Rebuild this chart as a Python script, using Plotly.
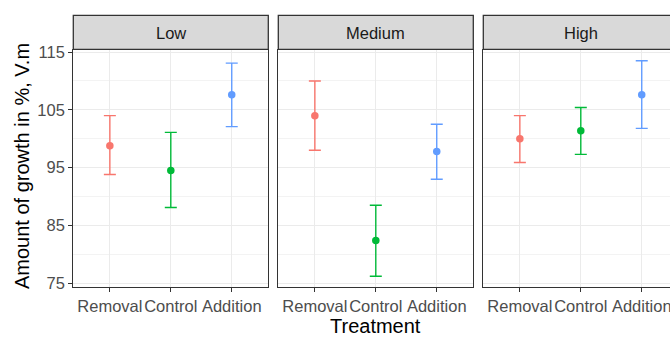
import plotly.graph_objects as go

# Treatment levels (x categories) and facet panels
treatments = ["Removal", "Control", "Addition"]
levels = ["Low", "Medium", "High"]

# Mean growth (%) and the lower / upper ends of the error bars for each panel
mean_low = [98.8, 94.5, 107.6]
lower_low = [93.8, 88.1, 102.1]
upper_low = [104.0, 101.1, 113.1]

mean_medium = [104.0, 82.4, 97.8]
lower_medium = [98.0, 76.2, 93.0]
upper_medium = [110.0, 88.5, 102.5]

mean_high = [100.0, 101.4, 107.6]
lower_high = [95.9, 97.3, 101.8]
upper_high = [104.0, 105.4, 113.5]

y_ticks = [75, 85, 95, 105, 115]

colors = ["#F8766D", "#00BA38", "#619CFF"]

W, H = 670, 337
FONT = "Liberation Sans, Arial, sans-serif"
BORDER = "#333333"
GRID = "#EBEBEB"
TICK_SIZE = 16.5

panels = [
    (mean_low, lower_low, upper_low),
    (mean_medium, lower_medium, upper_medium),
    (mean_high, lower_high, upper_high),
]

# panel geometry in pixels
panel_w = 195.0
panel_left = [73.3, 278.3, 483.3]
top_px, bottom_px = 50.0, 287.0
strip_top, strip_bot = 15.3, 49.3
unit_px = panel_w / 3.2

# ggplot-style 5% expansion of the data range
all_lo = lower_low + lower_medium + lower_high
all_hi = upper_low + upper_medium + upper_high
span = max(all_hi) - min(all_lo)
y_range = [min(all_lo) - 0.05 * span, max(all_hi) + 0.05 * span]

fig = go.Figure()
for p, (m, lo, hi) in enumerate(panels):
    xa = "x" if p == 0 else f"x{p + 1}"
    ya = "y" if p == 0 else f"y{p + 1}"
    for i, t in enumerate(treatments):
        fig.add_trace(go.Scatter(
            x=[t], y=[m[i]],
            mode="markers",
            marker=dict(color=colors[i], size=7.5),
            error_y=dict(type="data", symmetric=False,
                         array=[hi[i] - m[i]], arrayminus=[m[i] - lo[i]],
                         color=colors[i], thickness=1.4, width=6),
            xaxis=xa, yaxis=ya, showlegend=False,
        ))

layout = dict(
    width=W, height=H,
    margin=dict(l=0, r=0, t=0, b=0, pad=0),
    paper_bgcolor="white", plot_bgcolor="white",
    font=dict(family=FONT, size=16, color="#4D4D4D"),
    showlegend=False,
)

shapes = []
annotations = []
for p in range(3):
    left = panel_left[p]
    right = min(left + panel_w, W)
    x_hi = -0.6 + (right - left) / unit_px
    suffix = "" if p == 0 else str(p + 1)
    last = p == 2
    layout["xaxis" + suffix] = dict(
        domain=[left / W, right / W],
        anchor="y" + suffix,
        type="category",
        categoryorder="array", categoryarray=treatments,
        range=[-0.6, x_hi],
        automargin=False,
        showgrid=True, gridcolor=GRID, gridwidth=1,
        showline=True, linecolor=BORDER, linewidth=1.3, mirror=True,
        ticks="outside", ticklen=4, tickcolor=BORDER, tickwidth=1,
        tickangle=0, ticklabeloverflow="allow",
        tickfont=dict(family=FONT, size=TICK_SIZE, color="#4D4D4D"),
        zeroline=False, fixedrange=True,
    )
    layout["yaxis" + suffix] = dict(
        domain=[1 - bottom_px / H, 1 - top_px / H],
        anchor="x" + suffix,
        range=y_range,
        tickvals=y_ticks,
        automargin=False,
        showticklabels=(p == 0),
        showgrid=True, gridcolor=GRID, gridwidth=1,
        minor=dict(tickvals=[80, 90, 100, 110], showgrid=True,
                   gridcolor="#F3F3F3", gridwidth=0.7, ticks=""),
        showline=True, linecolor=BORDER, linewidth=1.3,
        mirror=(not last),
        ticks="outside" if p == 0 else "", ticklen=4, tickcolor=BORDER, tickwidth=1,
        tickfont=dict(family=FONT, size=TICK_SIZE, color="#4D4D4D"),
        zeroline=False, fixedrange=True,
    )
    # facet strip
    strip_right = left + panel_w
    shapes.append(dict(
        type="rect", xref="paper", yref="paper",
        x0=left / W, x1=strip_right / W,
        y0=1 - strip_bot / H, y1=1 - strip_top / H,
        fillcolor="#D9D9D9", line=dict(color=BORDER, width=1.3), layer="above",
    ))
    annotations.append(dict(
        text=levels[p], xref="paper", yref="paper",
        x=(left + panel_w / 2) / W, y=1 - ((strip_top + strip_bot) / 2 + 1) / H,
        xanchor="center", yanchor="middle", showarrow=False,
        font=dict(family=FONT, size=TICK_SIZE, color="#1A1A1A"),
    ))

annotations.append(dict(
    text="Treatment", xref="paper", yref="paper",
    x=(panel_left[0] + panel_left[2] + panel_w) / 2 / W, y=1 - 326 / H,
    xanchor="center", yanchor="middle", showarrow=False,
    font=dict(family=FONT, size=20, color="black"),
))
annotations.append(dict(
    text="Amount of growth in %, V.m", xref="paper", yref="paper",
    x=22 / W, y=1 - 166 / H, textangle=-90,
    xanchor="center", yanchor="middle", showarrow=False,
    font=dict(family=FONT, size=20, color="black"),
))

layout["shapes"] = shapes
layout["annotations"] = annotations
fig.update_layout(**layout)

fig.write_html("out.html", config={"displayModeBar": False})
